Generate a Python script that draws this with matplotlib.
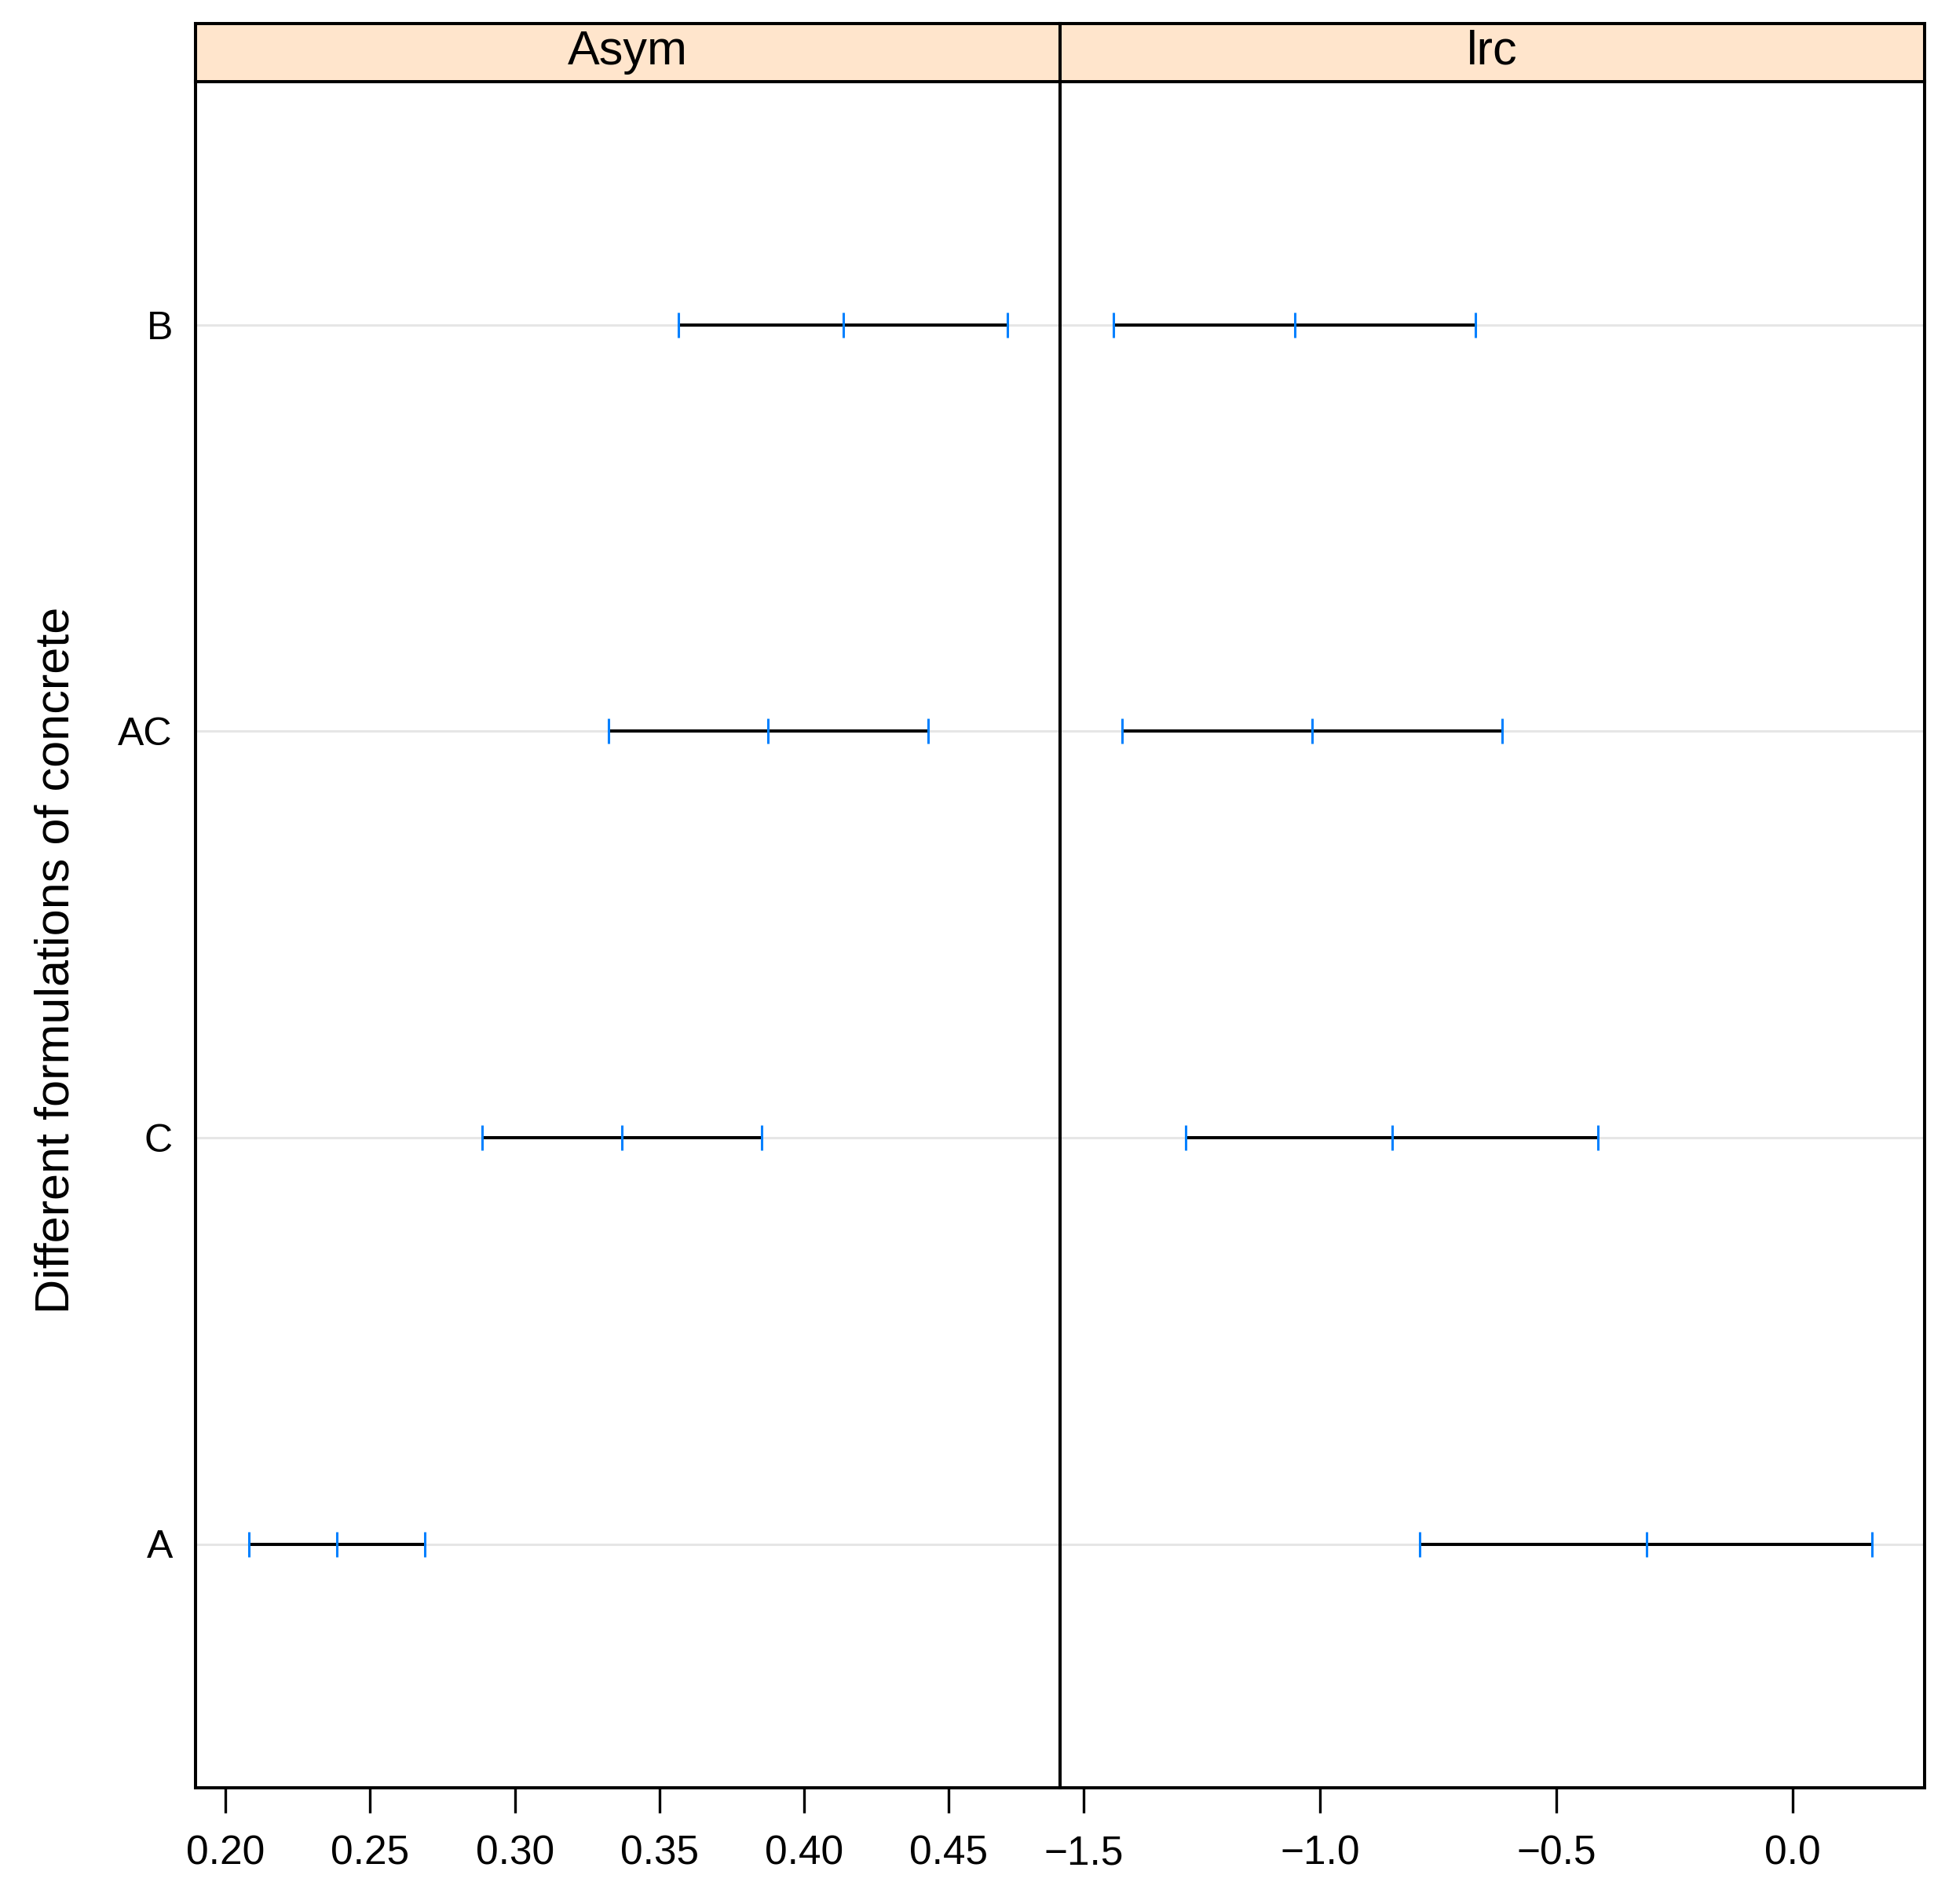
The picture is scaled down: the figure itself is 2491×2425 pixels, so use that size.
import matplotlib
matplotlib.use('Agg')
import matplotlib.pyplot as plt

plt.rcParams['font.family'] = ['Liberation Sans', 'DejaVu Sans']

# categories, bottom to top
groups = ['A', 'C', 'AC', 'B']
panels = ['Asym', 'lrc']

# lower / estimate / upper per group
asym_lower = [0.2082, 0.2888, 0.3323, 0.3565]
asym_est = [0.2384, 0.3371, 0.3875, 0.4134]
asym_upper = [0.2690, 0.3853, 0.4427, 0.4703]

lrc_lower = [-0.7895, -1.2834, -1.418, -1.4366]
lrc_est = [-0.3088, -0.8476, -1.0166, -1.0536]
lrc_upper = [0.1693, -0.4118, -0.615, -0.6706]

asym_ticks = [0.20, 0.25, 0.30, 0.35, 0.40, 0.45]
lrc_ticks = [-1.5, -1.0, -0.5, 0.0]

data = {
    'Asym': (asym_lower, asym_est, asym_upper, (0.1897, 0.4884), asym_ticks, '%.2f'),
    'lrc': (lrc_lower, lrc_est, lrc_upper, (-1.550, 0.280), lrc_ticks, '%.1f'),
}

W, H = 2491, 2425
fig = plt.figure(figsize=(W / 100, H / 100), dpi=100)

left, mid, right = 249 / W, 1350 / W, 2451 / W
bottom = 1 - 2277 / H
ptop = 1 - 103.5 / H
stop = 1 - 29.5 / H

ypos = list(range(1, len(groups) + 1))

for i, name in enumerate(panels):
    x0 = left if i == 0 else mid
    x1 = mid if i == 0 else right
    ax = fig.add_axes([x0, bottom, x1 - x0, ptop - bottom])
    lo, est, hi, xlim, ticks, fmt = data[name]

    # light reference lines
    for y in ypos:
        ax.axhline(y, color='#e6e6e6', lw=2.2, zorder=1)
    ax.hlines(ypos, lo, hi, color='black', lw=2.9, zorder=2)
    for vals in (lo, est, hi):
        ax.plot(vals, ypos, ls='none', marker='|', ms=23, mew=2.2,
                color='#0080ff', zorder=3)

    ax.set_xlim(*xlim)
    ax.set_ylim(0.4, 4.6)
    ax.set_xticks(ticks)
    ax.set_xticklabels([(fmt % t).replace('-', '\u2212') for t in ticks])
    ax.tick_params(axis='x', direction='out', length=23, width=2.4,
                   pad=20, labelsize=37)
    if i == 0:
        ax.set_yticks(ypos)
        ax.set_yticklabels(groups)
        ax.tick_params(axis='y', length=0, pad=21, labelsize=36)
    else:
        ax.set_yticks([])
    for sp in ax.spines.values():
        sp.set_linewidth(2.9)

    # strip on top
    sax = fig.add_axes([x0, ptop, x1 - x0, stop - ptop])
    sax.set_facecolor('#ffe5cc')
    sax.set_xticks([])
    sax.set_yticks([])
    for sp in sax.spines.values():
        sp.set_linewidth(2.9)
    sax.text(0.5, 0.5, name, ha='center', va='center', fontsize=44,
             transform=sax.transAxes)

fig.text(72 / W, 1 - 1223 / H, 'Different formulations of concrete',
         rotation=90, ha='center', va='center', fontsize=44)

fig.savefig('out.png', dpi=100)
